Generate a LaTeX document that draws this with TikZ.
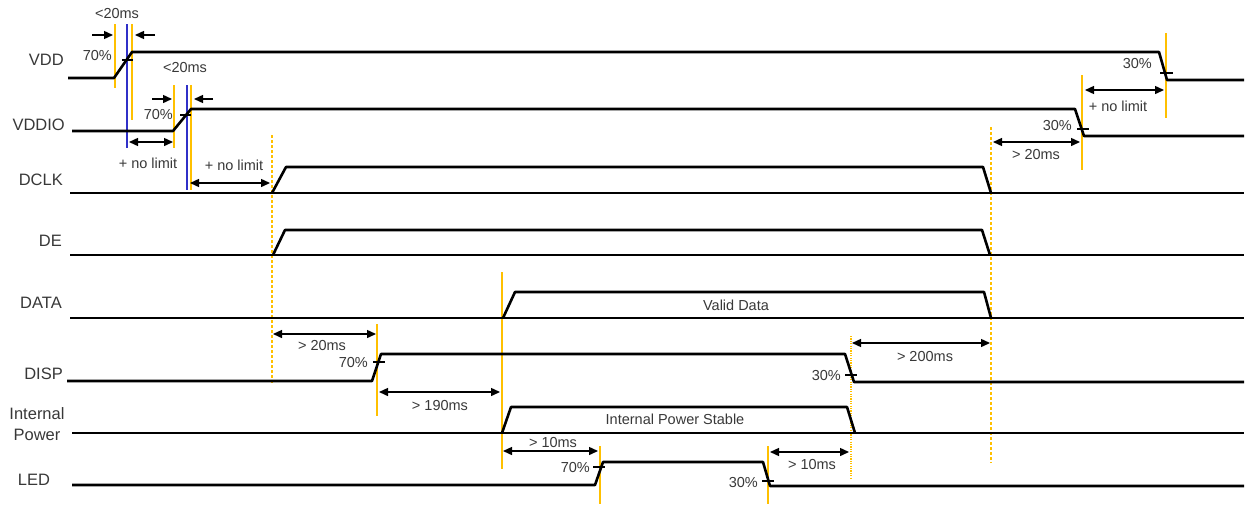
\documentclass[tikz,border=0pt]{standalone}
\usepackage{fontspec}
\setmainfont{Liberation Sans}
\usetikzlibrary{arrows.meta,positioning}
\definecolor{mkyellow}{HTML}{FFC000}
\definecolor{mkblue}{HTML}{3030C8}
\definecolor{txtgray}{HTML}{383838}
\newcommand{\notesize}{\fontsize{14.5}{16}\selectfont}
\tikzset{
  >={Triangle[length=9pt,width=8pt]},
  sname/.style ={font=\fontsize{16.5}{21}\selectfont, text=txtgray, inner sep=0pt, align=center},
  note/.style  ={font=\notesize, text=txtgray, inner sep=0pt},
  pct/.style   ={font=\notesize, text=txtgray, inner sep=0pt, anchor=east},
  sig/.style   ={draw, line width=2.6pt, line join=round},
  tick/.style  ={draw, line width=1.3pt},
  dim/.style   ={<->, draw, line width=1.4pt},
  pnt/.style   ={->, draw, line width=1.4pt},
  mky/.style   ={draw=mkyellow, line width=2.4pt},
  mkb/.style   ={draw=mkblue, line width=2.4pt},
  mkdash/.style={draw=mkyellow, line width=1.9pt, dash pattern=on 3pt off 2pt},
  mkdot/.style ={draw=mkyellow, line width=1.9pt, dash pattern=on 1.2pt off 1.2pt},
}
\begin{document}
\begin{tikzpicture}[x=1pt,y=-1pt]
\useasboundingbox (0,0) rectangle (1249,507);

% signal names
\node[sname,anchor=east] (nvdd)   at (64,60)  {VDD};
\node[sname,anchor=east] (nvddio) at (65,125) {VDDIO};
\node[sname,anchor=east] (ndclk)  at (63,180) {DCLK};
\node[sname,anchor=east] (nde)    at (62,241) {DE};
\node[sname,anchor=east] (ndata)  at (62,303) {DATA};
\node[sname,anchor=east] (ndisp)  at (63,374) {DISP};
\node[sname]             (nip)    at (37,424) {Internal\\Power};
\node[sname]             (nled)   at (34,480) {LED};

% marker lines
\foreach \x/\ya/\yb/\st in {115/24/88/mky, 127/24/148/mkb, 132/24/120/mky,
    174/85/148/mky, 187/85/190/mkb, 191/85/190/mky, 272/135/383/mkdash,
    377/324/416/mky, 502/272/469/mky, 600/446/504/mky, 768/446/504/mky,
    851/336/478/mkdot, 991/127/463/mkdash, 1082/75/170/mky, 1166/33/118/mky}
  \draw[\st] (\x,\ya) -- (\x,\yb);

% signals
\draw[sig] (68,78) -- (114,78) -- (132,52) -- (1159,52) -- (1167,80) -- (1244,80);
\draw[sig] (72,131) -- (173,131) -- (191,109) -- (1075,109) -- (1084,136) -- (1244,136);
\draw[sig] (70,193) -- (1244,193);
\draw[sig] (272,193) -- (286,167) -- (983,167) -- (991,193);
\draw[sig] (70,255) -- (1244,255);
\draw[sig] (273,255) -- (285,230) -- (982,230) -- (990,255);
\draw[sig] (70,318) -- (1244,318);
\draw[sig] (503,318) -- (515,292) -- (984,292) -- (991,318);
\draw[sig] (67,381) -- (372,381) -- (381,354) -- (845,354) -- (854,382) -- (1244,382);
\draw[sig] (72,433) -- (1244,433);
\draw[sig] (502,433) -- (511,407) -- (847,407) -- (855,433);
\draw[sig] (72,485) -- (595,485) -- (603,462) -- (763,462) -- (770,486) -- (1244,486);
\node[note] (vdata) at (736,305) {Valid Data};
\node[note] (vip)   at (675,419) {Internal Power Stable};

% level ticks
\foreach \xa/\xb/\y in {122/133/60, 180/191/115, 373/385/362, 845/857/375,
    593/605/467, 762/774/481, 1160/1173/73, 1077/1089/129}
  \draw[tick] (\xa,\y) -- (\xb,\y);
\node[pct] (p1) at (112,56)   {70\%};
\node[pct] (p2) at (173,115)  {70\%};
\node[pct] (p3) at (368,362)  {70\%};
\node[pct] (p4) at (841,375)  {30\%};
\node[pct] (p5) at (590,467)  {70\%};
\node[pct] (p6) at (758,482)  {30\%};
\node[pct] (p7) at (1152,64)  {30\%};
\node[pct] (p8) at (1072,126) {30\%};

% rise time limits
\coordinate (r1a) at (92,35);  \coordinate (r1b) at (113,35);
\coordinate (r1c) at (155,35); \coordinate (r1d) at (135,35);
\draw[pnt] (r1a) -- (r1b);
\draw[pnt] (r1c) -- (r1d);
\node[note] (r1) at (117,14) {<20ms};
\coordinate (r2a) at (152,99); \coordinate (r2b) at (172,99);
\coordinate (r2c) at (213,99); \coordinate (r2d) at (194,99);
\draw[pnt] (r2a) -- (r2b);
\draw[pnt] (r2c) -- (r2d);
\node[note] (r2) at (185,68) {<20ms};

% delays
\coordinate (d1a) at (129,142);  \coordinate (d1b) at (173,142);
\coordinate (d2a) at (190,183);  \coordinate (d2b) at (270,183);
\coordinate (d3a) at (273,334);  \coordinate (d3b) at (376,334);
\coordinate (d4a) at (379,392);  \coordinate (d4b) at (500,392);
\coordinate (d5a) at (503,451);  \coordinate (d5b) at (598,451);
\coordinate (d6a) at (770,452);  \coordinate (d6b) at (849,452);
\coordinate (d7a) at (852,343);  \coordinate (d7b) at (990,343);
\coordinate (d8a) at (993,142);  \coordinate (d8b) at (1080,142);
\coordinate (d9a) at (1085,90);  \coordinate (d9b) at (1164,90);
\foreach \i in {1,...,9}
  \draw[dim] (d\i a) -- (d\i b);
\node[note] (t1) at (148,163)  {+ no limit};
\node[note] (t2) at (234,165)  {+ no limit};
\node[note] (t3) at (322,345)  {> 20ms};
\node[note] (t4) at (440,405)  {> 190ms};
\node[note] (t5) at (553,442)  {> 10ms};
\node[note] (t6) at (812,464)  {> 10ms};
\node[note] (t7) at (925,356)  {> 200ms};
\node[note] (t8) at (1036,155) {> 20ms};
\node[note] (t9) at (1118,106) {+ no limit};
\end{tikzpicture}
\end{document}
